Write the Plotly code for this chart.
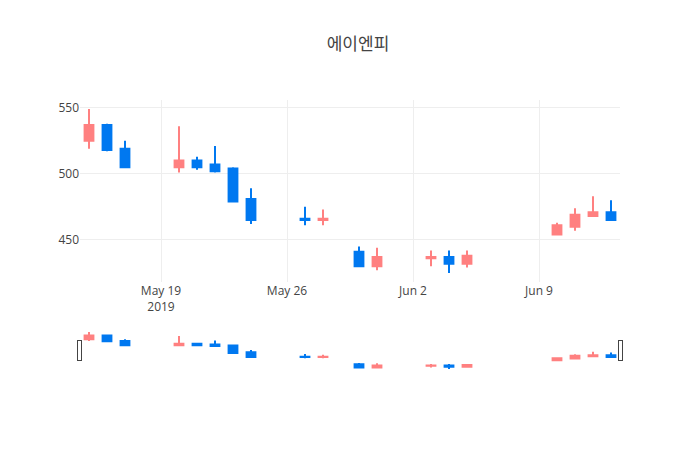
import plotly.graph_objects as go

dates = ["2019-05-15", "2019-05-16", "2019-05-17", "2019-05-20", "2019-05-21",
         "2019-05-22", "2019-05-23", "2019-05-24", "2019-05-27", "2019-05-28",
         "2019-05-30", "2019-05-31", "2019-06-03", "2019-06-04", "2019-06-05",
         "2019-06-10", "2019-06-11", "2019-06-12", "2019-06-13"]
open_ = [525, 537, 519, 505, 510, 507, 504, 481, 466, 465, 441, 430, 436, 437, 432, 454, 460, 468, 471]
high = [549, 538, 525, 536, 513, 521, 505, 489, 475, 473, 445, 444, 442, 442, 442, 463, 474, 483, 480]
low = [519, 517, 505, 501, 503, 501, 479, 462, 461, 461, 430, 427, 430, 425, 429, 454, 457, 468, 465]
close = [537, 518, 505, 510, 505, 502, 479, 465, 465, 466, 430, 437, 437, 432, 438, 461, 469, 471, 465]

title = "에이엔피"

fig = go.Figure(go.Candlestick(
    x=dates, open=open_, high=high, low=low, close=close,
    increasing=dict(line=dict(color="#ff8080"), fillcolor="#ff8080"),
    decreasing=dict(line=dict(color="#0078f0"), fillcolor="#0078f0"),
))
fig.update_layout(
    template="none",
    width=700, height=450,
    margin=dict(l=72, r=88, t=92, b=88),
    title=dict(text=title, x=0.5, xanchor="center", y=0.92, yanchor="middle", yref="container"),
    font=dict(family="Open Sans, Noto Sans CJK KR, sans-serif"),
    xaxis=dict(rangeslider=dict(visible=True)),
    showlegend=False,
)
fig.write_html("out.html")
